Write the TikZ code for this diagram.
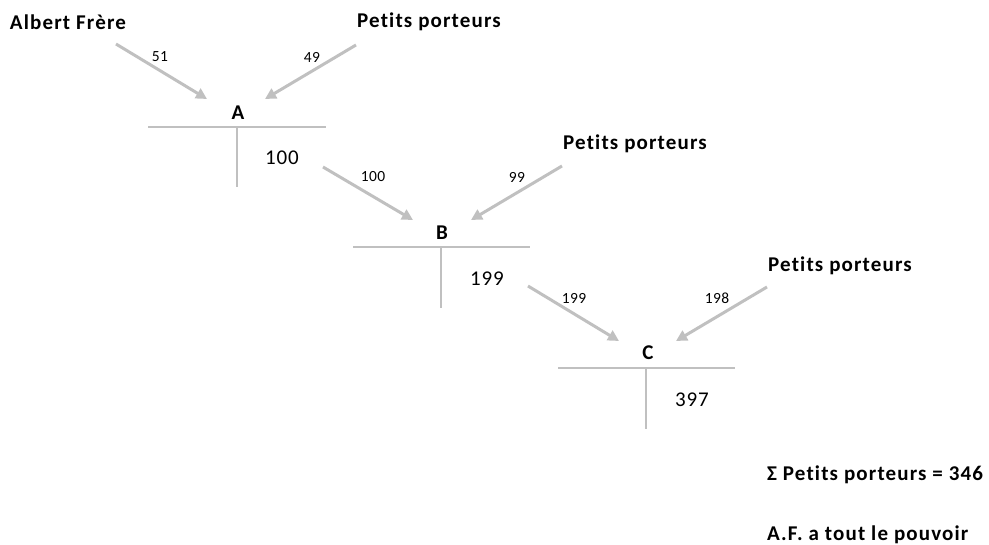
\documentclass[tikz,border=0pt]{standalone}
\usepackage{fontspec}
\setmainfont{Carlito}[Ligatures={NoCommon}]
\usetikzlibrary{arrows.meta}
\definecolor{lgray}{RGB}{192,192,192}
\tikzset{
  bigbold/.style={font=\fontsize{21}{24}\selectfont\bfseries\addfontfeatures{LetterSpace=5.5}, inner sep=0pt},
  small/.style={font=\fontsize{15.5}{17}\selectfont\addfontfeatures{LetterSpace=3}, inner sep=0pt},
  amount/.style={font=\fontsize{21}{24}\selectfont\addfontfeatures{LetterSpace=4}, inner sep=0pt},
  flow/.style={draw=lgray, line width=3pt, -{Triangle[length=11pt,width=11pt]}},
  bar/.style={draw=lgray, line width=2.5pt}
}
\begin{document}
\begin{tikzpicture}[x=1pt,y=-1pt]
\useasboundingbox (0,0) rectangle (989,545);
% labels
\node[bigbold] (af) at (68,22) {Albert Frère};
\node[bigbold] (pp1) at (429,22) {Petits porteurs};
\node[bigbold] (pp2) at (635,144) {Petits porteurs};
\node[bigbold] (pp3) at (840,266) {Petits porteurs};
\node[bigbold] (A) at (238,113) {A};
\node[bigbold] (B) at (442,233) {B};
\node[bigbold] (C) at (648,353) {C};
\node[amount] (vA) at (282,158) {100};
\node[amount] (vB) at (487,279) {199};
\node[amount] (vC) at (692,400) {397};
\node[bigbold, anchor=west] (sum) at (767,475) {Σ Petits porteurs = 346};
\node[bigbold, anchor=west] (af2) at (767,535) {A.F. a tout le pouvoir};
% T bars
\coordinate (Al) at (148,127); \coordinate (Ar) at (326,127);
\coordinate (At) at (237,127); \coordinate (Ab) at (237,187);
\coordinate (Bl) at (353,247); \coordinate (Br) at (530,247);
\coordinate (Bt) at (441,247); \coordinate (Bb) at (441,308);
\coordinate (Cl) at (558,368); \coordinate (Cr) at (735,368);
\coordinate (Ct) at (646,368); \coordinate (Cb) at (646,429);
\draw[bar] (Al) -- (Ar);
\draw[bar] (At) -- (Ab);
\draw[bar] (Bl) -- (Br);
\draw[bar] (Bt) -- (Bb);
\draw[bar] (Cl) -- (Cr);
\draw[bar] (Ct) -- (Cb);
% arrows
\coordinate (a1s) at (116,44); \coordinate (a1e) at (207,99);
\coordinate (a2s) at (356,45); \coordinate (a2e) at (265,99);
\coordinate (b1s) at (323,167); \coordinate (b1e) at (413,220);
\coordinate (b2s) at (562,166); \coordinate (b2e) at (471,220);
\coordinate (c1s) at (528,286); \coordinate (c1e) at (619,341);
\coordinate (c2s) at (767,287); \coordinate (c2e) at (676,341);
\draw[flow] (a1s) -- (a1e);
\draw[flow] (a2s) -- (a2e);
\draw[flow] (b1s) -- (b1e);
\draw[flow] (b2s) -- (b2e);
\draw[flow] (c1s) -- (c1e);
\draw[flow] (c2s) -- (c2e);
\node[small] (l51) at (160,57) {51};
\node[small] (l49) at (312,57) {49};
\node[small] (l100) at (373,177) {100};
\node[small] (l99) at (517,177) {99};
\node[small] (l199) at (574,298) {199};
\node[small] (l198) at (717,298) {198};
\end{tikzpicture}
\end{document}
